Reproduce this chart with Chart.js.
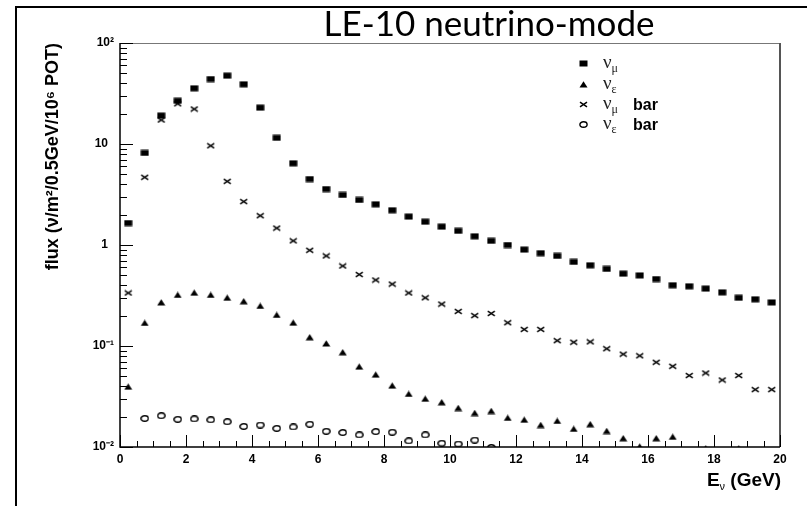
<!DOCTYPE html>
<html>
<head>
<meta charset="utf-8">
<script src="https://cdn.jsdelivr.net/npm/chart.js@4.4.1/dist/chart.umd.min.js"></script>
<style>
  html, body { margin: 0; padding: 0; background: #fff; }
  #wrap { width: 807px; height: 506px; position: relative; }
</style>
</head>
<body>
<div id="wrap"><canvas id="c" width="807" height="506"></canvas></div>
<script>
// ---- data ----
const energy = [0.25, 0.75, 1.25, 1.75, 2.25, 2.75, 3.25, 3.75, 4.25, 4.75,
                5.25, 5.75, 6.25, 6.75, 7.25, 7.75, 8.25, 8.75, 9.25, 9.75,
                10.25, 10.75, 11.25, 11.75, 12.25, 12.75, 13.25, 13.75, 14.25, 14.75,
                15.25, 15.75, 16.25, 16.75, 17.25, 17.75, 18.25, 18.75, 19.25, 19.75];

const numu = [1.65, 8.15, 19.1, 26.8, 35.6, 44, 47.5, 39, 22.9, 11.5,
              6.44, 4.5, 3.58, 3.13, 2.79, 2.53, 2.21, 1.91, 1.70, 1.52,
              1.38, 1.22, 1.10, 1.0, 0.90, 0.83, 0.78, 0.68, 0.63, 0.58,
              0.52, 0.50, 0.46, 0.40, 0.39, 0.37, 0.34, 0.30, 0.29, 0.27];

const nue = [0.0395, 0.169, 0.27, 0.32, 0.337, 0.32, 0.30, 0.277, 0.249, 0.203,
             0.170, 0.122, 0.106, 0.0866, 0.0624, 0.052, 0.0405, 0.0335, 0.030, 0.0277,
             0.0243, 0.0217, 0.0227, 0.0194, 0.0186, 0.0165, 0.0181, 0.0151, 0.0168, 0.0144,
             0.0122, 0.0101, 0.0122, 0.0126, null, 0.0097, null, 0.0097, null, null];

const numubar = [0.335, 4.68, 17.3, 25, 22.2, 9.6, 4.27, 2.69, 1.95, 1.47,
                 1.10, 0.886, 0.78, 0.62, 0.51, 0.45, 0.41, 0.335, 0.30, 0.26,
                 0.22, 0.20, 0.21, 0.17, 0.146, 0.146, 0.113, 0.109, 0.11, 0.094,
                 0.083, 0.080, 0.069, 0.063, 0.051, 0.054, 0.046, 0.051, 0.037, 0.037];

const nuebar = [null, 0.0192, 0.0204, 0.0188, 0.019, 0.0186, 0.0178, 0.016, 0.0165, 0.0153,
                0.0158, 0.0168, 0.0143, 0.0139, 0.0132, 0.0142, 0.014, 0.0115, 0.0132, 0.0109,
                0.0107, 0.0117, 0.0099, null, null, null, null, null, null, null,
                null, null, null, null, null, null, null, null, null, null];

const yTickValues = [0.01, 0.1, 1, 10, 100];
const yTickLabels = ['10\u207B\u00B2', '10\u207B\u00B9', '1\u2002', '10\u2002', '10\u00B2'];
const xTickValues = [0, 2, 4, 6, 8, 10, 12, 14, 16, 18, 20];

const chartTitle = 'LE-10 neutrino-mode';
const yAxisTitle = 'flux (\u03BD/m\u00B2/0.5GeV/10\u2076 POT)';
const legendItems = [
  { nu: '\u03BD', sub: '\u03BC', bar: '' },
  { nu: '\u03BD', sub: '\u03B5', bar: '' },
  { nu: '\u03BD', sub: '\u03BC', bar: 'bar' },
  { nu: '\u03BD', sub: '\u03B5', bar: 'bar' }
];

// ---- marker images ----
function makeMarker(kind) {
  const c = document.createElement('canvas');
  const w = 9, h = 7;
  c.width = w; c.height = h;
  const g = c.getContext('2d');
  g.fillStyle = '#000'; g.strokeStyle = '#000';
  if (kind === 'square') {
    g.fillRect(0.5, 0.5, 8, 6);
  } else if (kind === 'triangle') {
    g.beginPath(); g.moveTo(4.5, 0.3); g.lineTo(8.5, 6.5); g.lineTo(0.5, 6.5); g.closePath(); g.fill();
  } else if (kind === 'cross') {
    g.lineWidth = 1.5;
    g.beginPath(); g.moveTo(1, 1.2); g.lineTo(8, 5.8); g.moveTo(8, 1.2); g.lineTo(1, 5.8); g.stroke();
  } else if (kind === 'circle') {
    g.lineWidth = 1.4;
    g.beginPath(); g.ellipse(4.5, 3.5, 3.6, 2.7, 0, 0, Math.PI * 2); g.stroke();
  }
  return c;
}
const markers = [makeMarker('square'), makeMarker('triangle'), makeMarker('cross'), makeMarker('circle')];

function pts(arr) {
  const out = [];
  for (let i = 0; i < energy.length; i++) {
    if (arr[i] !== null) out.push({ x: energy[i], y: arr[i] });
  }
  return out;
}

const seriesList = [numu, nue, numubar, nuebar];
const seriesNames = ['numu', 'nue', 'numubar', 'nuebar'];

const datasets = seriesList.map((s, i) => ({
  label: seriesNames[i],
  data: pts(s),
  showLine: false,
  pointStyle: markers[i],
  pointRadius: 4,
  pointHoverRadius: 4,
  borderColor: '#000',
  backgroundColor: '#000',
  clip: 0
}));

const AREA = { left: 120, right: 780, top: 43, bottom: 447 };

const decorPlugin = {
  id: 'decor',
  afterDraw(chart) {
    const ctx = chart.ctx;
    const xs = chart.scales.x, ys = chart.scales.y;
    const a = chart.chartArea;
    ctx.save();
    // outer page frame
    ctx.strokeStyle = '#000'; ctx.lineWidth = 2;
    ctx.beginPath(); ctx.moveTo(16, 506); ctx.lineTo(16, 7); ctx.lineTo(807, 7); ctx.stroke();

    // plot frame
    ctx.lineWidth = 1;
    ctx.strokeStyle = '#777';
    ctx.beginPath(); ctx.moveTo(a.left, a.top + 0.5); ctx.lineTo(a.right, a.top + 0.5); ctx.stroke();
    ctx.strokeStyle = '#555'; ctx.lineWidth = 2;
    ctx.beginPath(); ctx.moveTo(a.right, a.top); ctx.lineTo(a.right, a.bottom); ctx.stroke();
    ctx.strokeStyle = '#000'; ctx.lineWidth = 1.5;
    ctx.beginPath(); ctx.moveTo(a.left, a.top); ctx.lineTo(a.left, a.bottom); ctx.lineTo(a.right, a.bottom); ctx.stroke();

    // y ticks (inside, log)
    ctx.lineWidth = 1;
    ctx.beginPath();
    for (let d = -2; d < 2; d++) {
      for (let m = 1; m <= 9; m++) {
        const v = m * Math.pow(10, d);
        const y = Math.round(ys.getPixelForValue(v)) + 0.5;
        const len = (m === 1) ? 13 : 7;
        ctx.moveTo(a.left, y); ctx.lineTo(a.left + len, y);
      }
    }
    const yTop = Math.round(ys.getPixelForValue(100)) + 0.5;
    ctx.moveTo(a.left, yTop); ctx.lineTo(a.left + 13, yTop);
    // x ticks (inside, upward)
    for (let k = 0; k <= 40; k++) {
      const v = k * 0.5;
      const x = Math.round(xs.getPixelForValue(v)) + 0.5;
      const len = (k % 4 === 0) ? 12 : 6;
      ctx.moveTo(x, a.bottom); ctx.lineTo(x, a.bottom - len);
    }
    ctx.stroke();

    // chart title
    ctx.fillStyle = '#000';
    ctx.font = '35px Lato, "Open Sans", sans-serif';
    ctx.textAlign = 'center'; ctx.textBaseline = 'alphabetic';
    ctx.fillText(chartTitle, 489, 36);

    // x axis title  E_nu (GeV)
    ctx.textAlign = 'left';
    const bigF = 'bold 19px "Liberation Sans", Arial, sans-serif';
    const subF = '11px "Liberation Sans", Arial, sans-serif';
    ctx.font = bigF; const wE = ctx.measureText('E').width; const wG = ctx.measureText(' (GeV)').width;
    ctx.font = subF; const wN = ctx.measureText('\u03BD').width;
    let x0 = 781 - (wE + wN + wG);
    ctx.font = bigF; ctx.fillText('E', x0, 486);
    ctx.font = subF; ctx.fillText('\u03BD', x0 + wE, 490);
    ctx.font = bigF; ctx.fillText(' (GeV)', x0 + wE + wN, 486);

    // legend
    const rowY = [63, 84, 104, 124];
    legendItems.forEach((it, i) => {
      const y = rowY[i];
      const m = markers[i];
      ctx.drawImage(m, Math.round(583 - m.width / 2), Math.round(y - m.height / 2));
      ctx.font = '19px "Liberation Serif", "DejaVu Serif", serif';
      ctx.fillStyle = '#222';
      ctx.fillText(it.nu, 603, y + 5);
      const wn = ctx.measureText(it.nu).width;
      ctx.font = '12px "Liberation Serif", "DejaVu Serif", serif';
      ctx.fillText(it.sub, 603 + wn, y + 9);
      if (it.bar) {
        ctx.fillStyle = '#000';
        ctx.font = 'bold 16px "Liberation Sans", Arial, sans-serif';
        ctx.fillText(it.bar, 633, y + 6);
      }
    });
    ctx.restore();
  }
};

new Chart(document.getElementById('c'), {
  type: 'scatter',
  data: { datasets },
  options: {
    responsive: false,
    animation: false,
    events: [],
    layout: { padding: { top: AREA.top, right: 807 - AREA.right, left: 0, bottom: 0 } },
    plugins: { legend: { display: false }, tooltip: { enabled: false }, title: { display: false } },
    scales: {
      x: {
        type: 'linear', min: 0, max: 20,
        grid: { display: false, drawTicks: false },
        border: { display: false },
        afterBuildTicks(s) { s.ticks = xTickValues.map(v => ({ value: v })); },
        afterFit(s) { s.height = 506 - AREA.bottom; },
        ticks: {
          padding: 5, maxRotation: 0, autoSkip: false, color: '#000',
          font: { family: '"Liberation Sans", Arial, sans-serif', size: 12, weight: 'bold' },
          callback: (v) => String(v)
        }
      },
      y: {
        type: 'logarithmic', min: 0.01, max: 100,
        grid: { display: false, drawTicks: false },
        border: { display: false },
        afterBuildTicks(s) { s.ticks = yTickValues.map(v => ({ value: v })); },
        afterFit(s) { s.width = AREA.left; },
        ticks: {
          padding: 6, autoSkip: false, color: '#000',
          font: { family: '"Liberation Sans", Arial, sans-serif', size: 12, weight: 'bold' },
          callback: (v) => { const i = yTickValues.indexOf(v); return i >= 0 ? yTickLabels[i] : ''; }
        },
        title: {
          display: true, text: yAxisTitle, align: 'end', color: '#000',
          padding: { top: 42, bottom: 0 },
          font: { family: '"Liberation Sans", Arial, sans-serif', size: 18, weight: 'bold' }
        }
      }
    }
  },
  plugins: [decorPlugin]
});
</script>
</body>
</html>
